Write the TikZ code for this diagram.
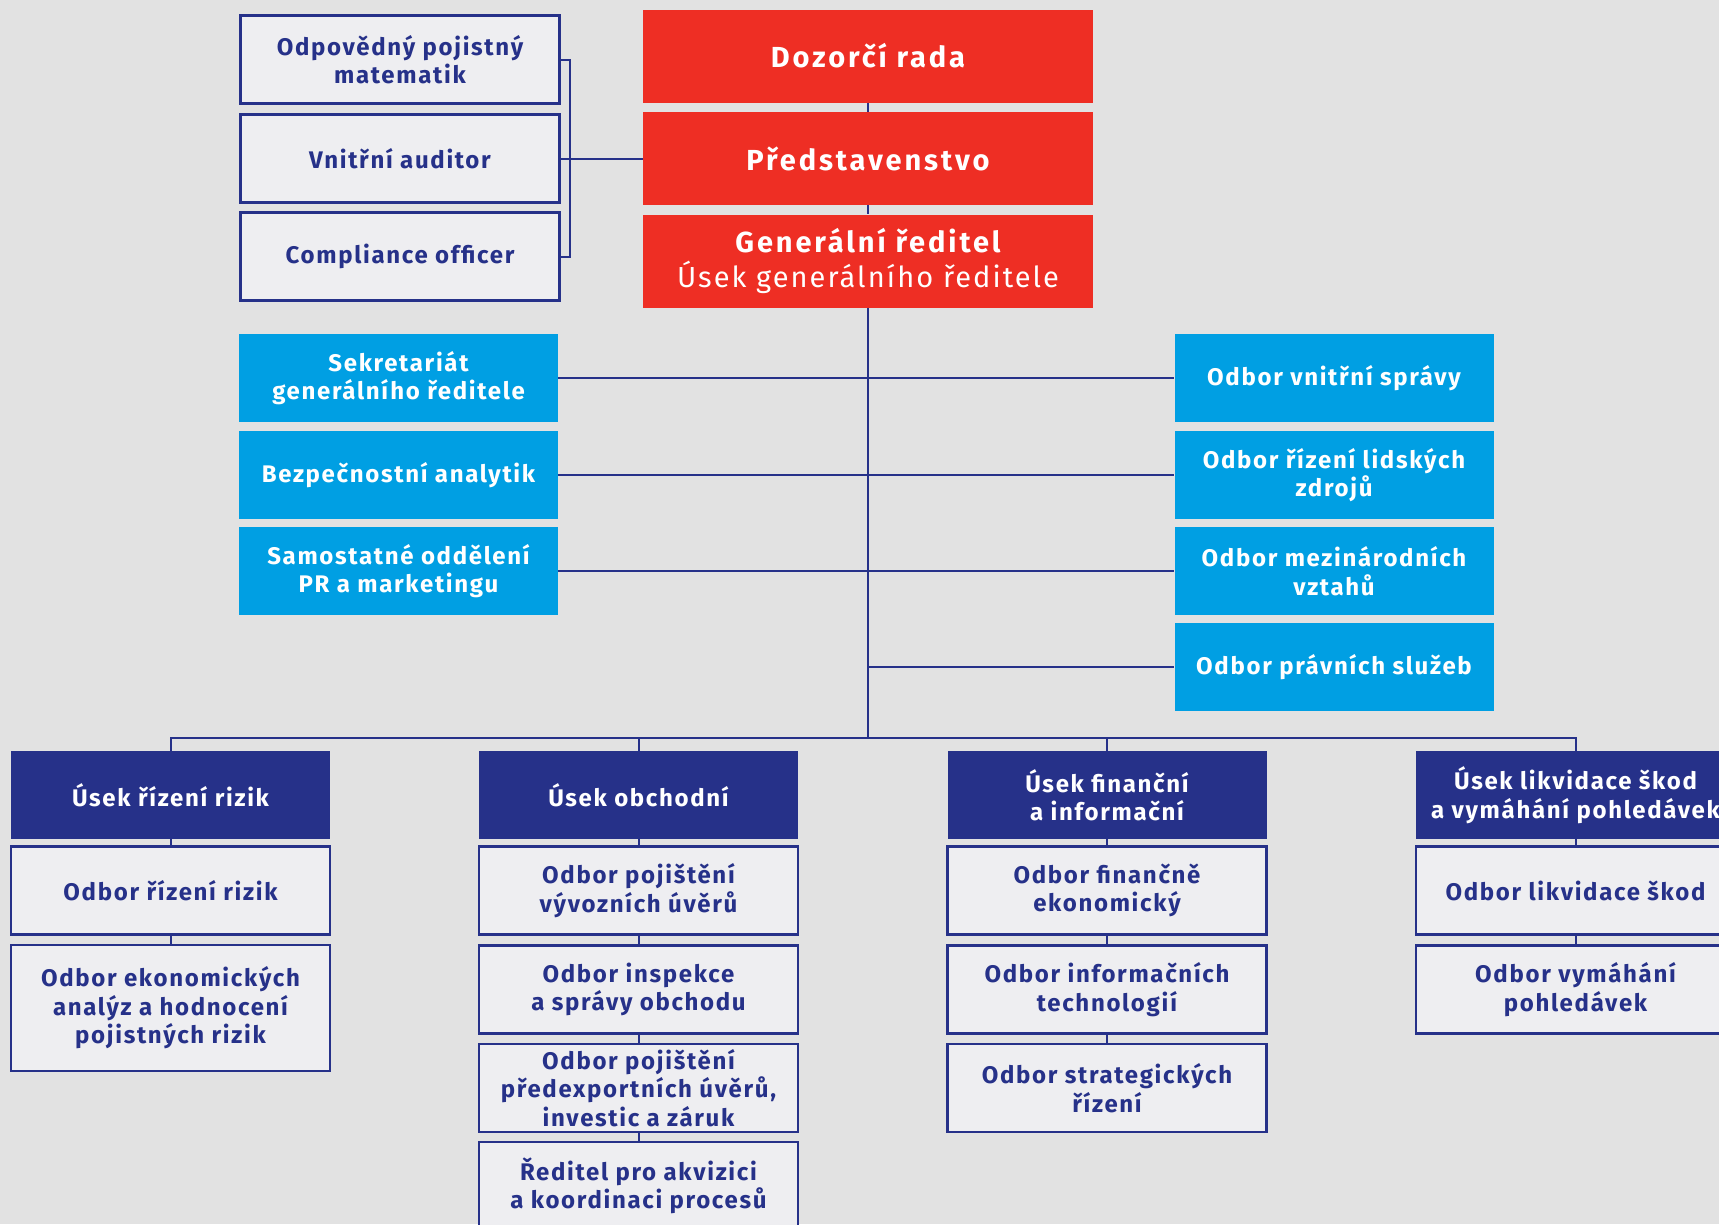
\documentclass[tikz,border=0pt]{standalone}
\usepackage{fontspec}
\setmainfont{Fira Sans}[LetterSpace=7]
\newfontfamily\boardfont{Fira Sans}[LetterSpace=10]
\usetikzlibrary{positioning}
\definecolor{eg-paper}{HTML}{E2E2E2}
\definecolor{eg-navy}{HTML}{263189}
\definecolor{eg-red}{HTML}{EE2E24}
\definecolor{eg-cyan}{HTML}{009FE3}
\definecolor{eg-light}{HTML}{EEEEF1}

\begin{document}
\begin{tikzpicture}[x=1pt, y=-1pt,
    conn/.style={draw=eg-navy, line width=2pt},
    plain/.style={draw=eg-navy, line width=2.5pt, fill=eg-light, text=eg-navy,
      font=\bfseries\fontsize{24}{28.5}\selectfont, align=center,
      minimum width=319pt, minimum height=88pt, inner sep=0pt},
    board/.style={fill=eg-red, text=white, font=\boardfont\bfseries\fontsize{29}{35}\selectfont,
      align=center, minimum width=450pt, minimum height=93pt, inner sep=0pt},
    staff/.style={fill=eg-cyan, text=white, font=\bfseries\fontsize{24}{28.5}\selectfont,
      align=center, minimum width=319pt, minimum height=88pt, inner sep=0pt},
    division/.style={fill=eg-navy, text=white, font=\bfseries\fontsize{24}{28.5}\selectfont,
      align=center, minimum width=319pt, minimum height=88pt, inner sep=0pt}]
    \fill[eg-paper] (0,0) rectangle (1719,1224);
    \useasboundingbox (0,0) rectangle (1719,1224);

    % vedeni
    \node[board] (dozor) at (868,56) {Dozorčí rada};
    \node[board] (pred) at (868,158.5) {Představenstvo};
    \node[board] (gen) at (868,261) {Generální ředitel\\{\mdseries\rmfamily Úsek generálního ředitele}};

    \node[plain] (odp) at (400,59.5) {Odpovědný pojistný\\matematik};
    \node[plain] (vni) at (400,158.5) {Vnitřní auditor};
    \node[plain] (comp) at (400,256.5) {Compliance officer};

    % stab generalniho reditele
    \node[staff] (sek) at (398.5,378) {Sekretariát\\generálního ředitele};
    \node[staff] (bez) at (398.5,475) {Bezpečnostní analytik};
    \node[staff] (samo) at (398.5,571) {Samostatné oddělení\\PR a marketingu};
    \node[staff] (ovs) at (1334,378) {Odbor vnitřní správy};
    \node[staff] (olz) at (1334,475) {Odbor řízení lidských\\zdrojů};
    \node[staff] (omv) at (1334,571) {Odbor mezinárodních\\vztahů};
    \node[staff] (ops) at (1334,667) {Odbor právních služeb};

    % useky
    \node[division] (urr) at (170.5,795) {Úsek řízení rizik};
    \node[division] (uob) at (638.5,795) {Úsek obchodní};
    \node[division] (ufi) at (1107,795) {Úsek finanční\\a informační};
    \node[division] (uli) at (1575.5,795) {Úsek likvidace škod\\a vymáhání pohledávek};

    \node[plain] (orr) at (170.5,890.5) {Odbor řízení rizik};
    \node[plain, minimum height=126pt] (oea) at (170.5,1008) {Odbor ekonomických\\analýz a hodnocení\\pojistných rizik};

    \node[plain] (opv) at (638.5,890.5) {Odbor pojištění\\vývozních úvěrů};
    \node[plain] (oin) at (638.5,989.5) {Odbor inspekce\\a správy obchodu};
    \node[plain] (ope) at (638.5,1088) {Odbor pojištění\\předexportních úvěrů,\\investic a záruk};
    \node[plain] (rak) at (638.5,1186) {Ředitel pro akvizici\\a koordinaci procesů};

    \node[plain] (ofe) at (1107,890.5) {Odbor finančně\\ekonomický};
    \node[plain] (oit) at (1107,989.5) {Odbor informačních\\technologií};
    \node[plain] (osr) at (1107,1088) {Odbor strategických\\řízení};

    \node[plain] (olk) at (1575.5,890.5) {Odbor likvidace škod};
    \node[plain] (ovp) at (1575.5,989.5) {Odbor vymáhání\\pohledávek};

    % spojnice
    \coordinate (brk) at (570,158.5);
    \coordinate (bus) at (868,738);
    \draw[conn] (odp.east) -| (brk) |- (comp.east);
    \draw[conn] (vni.east) -- (pred.west);
    \draw[conn] (dozor.south) -- (pred.north);
    \draw[conn] (pred.south) -- (gen.north);
    \draw[conn] (gen.south) -- (bus);
    \draw[conn] (sek.east) -- (ovs.west);
    \draw[conn] (bez.east) -- (olz.west);
    \draw[conn] (samo.east) -- (omv.west);
    \draw[conn] (bus |- ops.west) -- (ops.west);
    \draw[conn] (urr.north) |- (bus) -| (uli.north);
    \draw[conn] (uob.north) -- (uob.north |- bus);
    \draw[conn] (ufi.north) -- (ufi.north |- bus);
    \draw[conn] (urr.south) -- (orr.north);
    \draw[conn] (orr.south) -- (oea.north);
    \draw[conn] (uob.south) -- (opv.north);
    \draw[conn] (opv.south) -- (oin.north);
    \draw[conn] (oin.south) -- (ope.north);
    \draw[conn] (ope.south) -- (rak.north);
    \draw[conn] (ufi.south) -- (ofe.north);
    \draw[conn] (ofe.south) -- (oit.north);
    \draw[conn] (oit.south) -- (osr.north);
    \draw[conn] (uli.south) -- (olk.north);
    \draw[conn] (olk.south) -- (ovp.north);
\end{tikzpicture}
\end{document}
